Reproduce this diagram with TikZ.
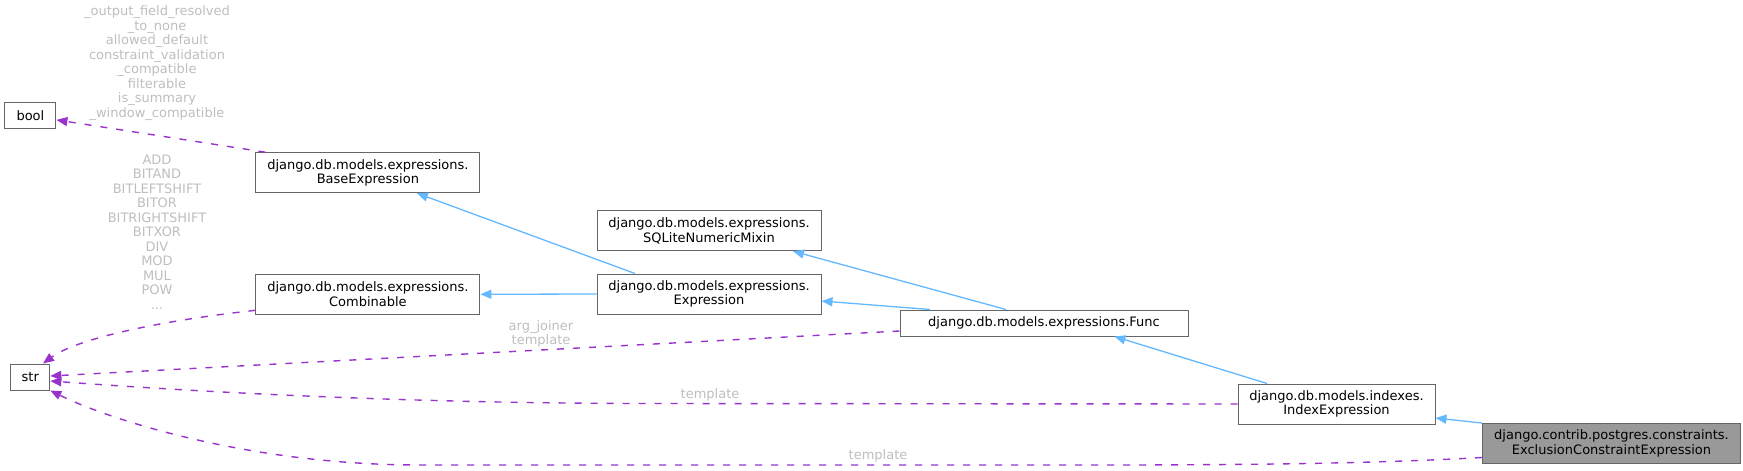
\documentclass[tikz,border=0pt]{standalone}
\usepackage{fontspec}
\setmainfont{DejaVu Sans}
\usetikzlibrary{arrows.meta}
\definecolor{edgeblue}{HTML}{63B8FF}
\definecolor{edgepurple}{HTML}{9A32CD}
\definecolor{labelgray}{HTML}{BEBEBE}
\definecolor{boxgray}{HTML}{666666}
\definecolor{focusgray}{HTML}{999999}

\begin{document}
\begin{tikzpicture}[x=1pt,y=-1pt,
        font=\fontsize{13}{14.5}\selectfont,
        cls/.style={draw=boxgray, line width=1pt, fill=white, align=center, inner sep=1pt, minimum height=40pt},
        lbl/.style={text=labelgray, align=center, inner sep=0pt},
        inherit/.style={draw=edgeblue, line width=1.3pt, -{Triangle[length=11pt,width=9pt]}},
        usage/.style={draw=edgepurple, line width=1.4pt, dash pattern=on 7pt off 9pt, -{Triangle[length=11pt,width=9pt]}}]
        \useasboundingbox (0,0) rectangle (1743,471);

        \node[cls, minimum width=51pt, minimum height=26pt] (bool) at (30.4,115.9) {bool};
        \node[cls, minimum width=39pt, minimum height=26pt] (str) at (30.3,377) {str};
        \node[cls, minimum width=224pt] (baseexpr) at (367.9,172.7) {django.db.models.expressions.\\BaseExpression};
        \node[cls, minimum width=224pt] (comb) at (367.9,294.3) {django.db.models.expressions.\\Combinable};
        \node[cls, minimum width=224pt] (sqlite) at (709,230.7) {django.db.models.expressions.\\SQLiteNumericMixin};
        \node[cls, minimum width=224pt] (expr) at (709,294) {django.db.models.expressions.\\Expression};
        \node[cls, minimum width=288pt, minimum height=26pt] (func) at (1044,323) {django.db.models.expressions.Func};
        \node[cls, minimum width=197pt] (idx) at (1336.5,404) {django.db.models.indexes.\\IndexExpression};
        \node[cls, minimum width=258pt, fill=focusgray] (excl) at (1611.5,443.5) {django.contrib.postgres.constraints.\\ExclusionConstraintExpression};

        \draw[inherit] ([xshift=-74pt]expr.north) -- ([xshift=49pt]baseexpr.south);
        \draw[inherit] (expr.west) -- (comb.east);
        \draw[inherit] ([xshift=-38pt]func.north) -- ([xshift=84pt]sqlite.south);
        \draw[inherit] ([xshift=-114pt]func.north) -- ([yshift=-7pt]expr.east);
        \draw[inherit] ([xshift=-69.5pt]idx.north) -- ([xshift=70.5pt]func.south);
        \draw[inherit] (excl.north west) -- ([yshift=-14pt]idx.east);

        \draw[usage] ([xshift=10pt]baseexpr.north west) -- ([yshift=-4pt]bool.east);
        \draw[usage] ([yshift=-16pt]comb.west) .. controls (150,322) and (75,340) .. ([xshift=12.7pt]str.north);
        \draw[usage] ([yshift=-8pt]func.west) -- ([yshift=1pt]str.east);
        \draw[usage] (idx.west) -- (640,403.5) .. controls (400,403) and (200,392) .. ([yshift=-4pt]str.east);
        \draw[usage] ([yshift=-14pt]excl.west) .. controls (1400,462) and (1300,465) .. (1100,465) -- (420,465) .. controls (250,465) and (110,420) .. (str.south east);

        \node[lbl] (boollbl) at (157,63) {\_output\_field\_resolved\\\_to\_none\\allowed\_default\\constraint\_validation\\\_compatible\\filterable\\is\_summary\\\_window\_compatible};
        \node[lbl] (comblbl) at (157,232) {ADD\\BITAND\\BITLEFTSHIFT\\BITOR\\BITRIGHTSHIFT\\BITXOR\\DIV\\MOD\\MUL\\POW\\...};
        \node[lbl] (funclbl) at (541,334) {arg\_joiner\\template};
        \node[lbl] (idxlbl) at (710,395) {template};
        \node[lbl] (excllbl) at (878,456) {template};
    \end{tikzpicture}
\end{document}
